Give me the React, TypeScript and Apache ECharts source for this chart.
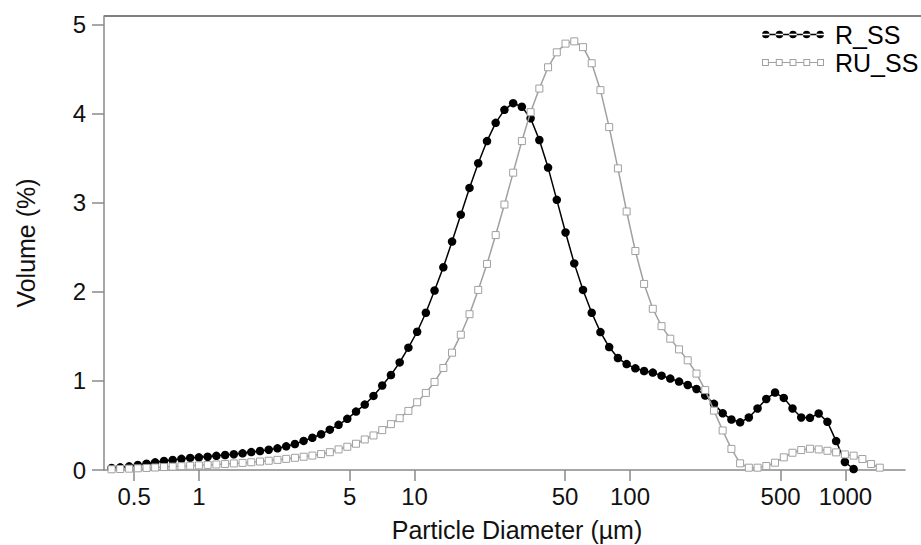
import React, { useEffect, useRef } from "react";
import * as echarts from "echarts";

// Channel centre diameters (µm)
const DIAMETERS = [
  0.393, 0.431, 0.474, 0.52, 0.571, 0.626, 0.688, 0.755, 0.829, 0.91,
  0.999, 1.097, 1.204, 1.322, 1.451, 1.593, 1.748, 1.919, 2.107, 2.313,
  2.539, 2.787, 3.059, 3.358, 3.687, 4.047, 4.443, 4.878, 5.355, 5.879,
  6.453, 7.084, 7.776, 8.537, 9.371, 10.29, 11.29, 12.39, 13.61, 14.94,
  16.4, 18.0, 19.76, 21.7, 23.81, 26.14, 28.7, 31.5, 34.58, 37.97,
  41.68, 45.75, 50.23, 55.13, 60.53, 66.44, 72.93, 80.07, 87.9, 96.48,
  105.9, 116.3, 127.6, 140.1, 153.8, 168.9, 185.3, 203.5, 223.4, 245.3,
  269.2, 295.6, 324.4, 356.1, 390.9, 429.1, 471.2, 517.2, 567.8, 623.3,
  684.2, 751.1, 824.5, 905.1, 993.6, 1091, 1198, 1315, 1443, 1584,
  1739, 1909,
];

// Volume (%)
const R_SS = [
  0.023, 0.03, 0.041, 0.056, 0.071, 0.086, 0.101, 0.112, 0.125, 0.136,
  0.142, 0.149, 0.159, 0.168, 0.177, 0.187, 0.201, 0.213, 0.228, 0.243,
  0.266, 0.292, 0.327, 0.362, 0.401, 0.453, 0.507, 0.575, 0.656, 0.735,
  0.832, 0.949, 1.067, 1.209, 1.374, 1.553, 1.766, 2.016, 2.277, 2.566,
  2.868, 3.169, 3.446, 3.695, 3.9, 4.046, 4.121, 4.08, 3.95, 3.707,
  3.397, 3.035, 2.668, 2.321, 2.023, 1.766, 1.549, 1.381, 1.258, 1.19,
  1.142, 1.112, 1.094, 1.06, 1.027, 0.993, 0.955, 0.91, 0.836, 0.743,
  0.638, 0.567, 0.535, 0.59, 0.691, 0.798, 0.87, 0.81, 0.691, 0.59,
  0.586, 0.635, 0.541, 0.325, 0.09, 0.011,
];

const RU_SS = [
  0.008, 0.011, 0.015, 0.019, 0.023, 0.028, 0.033, 0.038, 0.043, 0.048,
  0.052, 0.057, 0.062, 0.068, 0.074, 0.08, 0.087, 0.095, 0.104, 0.114,
  0.125, 0.137, 0.149, 0.162, 0.179, 0.2, 0.231, 0.261, 0.295, 0.343,
  0.388, 0.448, 0.515, 0.582, 0.664, 0.761, 0.866, 0.989, 1.146, 1.318,
  1.52, 1.75, 2.023, 2.315, 2.639, 2.982, 3.34, 3.695, 4.02, 4.285,
  4.524, 4.692, 4.79, 4.815, 4.75, 4.569, 4.267, 3.852, 3.388, 2.904,
  2.46, 2.09, 1.811, 1.616, 1.475, 1.355, 1.232, 1.083, 0.898, 0.667,
  0.444, 0.237, 0.075, 0.026, 0.026, 0.045, 0.082, 0.142, 0.194, 0.224,
  0.239, 0.231, 0.216, 0.198, 0.175, 0.161, 0.123, 0.067, 0.026,
];

const SERIES_NAMES = ["R_SS", "RU_SS"];
const X_TICKS = [0.5, 1, 5, 10, 50, 100, 500, 1000];
const Y_TICKS = [0, 1, 2, 3, 4, 5];
const X_RANGE = [0.3624, 1889];
const Y_RANGE = [0, 5.1];

const FONT = "'Liberation Sans', Arial, Helvetica, sans-serif";
const lg = (v: number) => Math.log10(v);
const toPairs = (vals: number[]) => vals.map((v, i) => [lg(DIAMETERS[i]), v]);
const fmtX = (v: number) => String(Number(Math.pow(10, v).toPrecision(4)));

// legend icons: line with five markers
const dotXs = [3.8, 17.4, 31, 44.6, 58.2];
const blackIcon =
  "path://M0,3.3 L62,3.3 L62,4.7 L0,4.7 Z " +
  dotXs.map((x) => `M${x - 3.8},4 a3.8,3.8 0 1,0 7.6,0 a3.8,3.8 0 1,0 -7.6,0 Z`).join(" ");
const grayIcon =
  "path://" +
  dotXs
    .map(
      (x) =>
        `M${x - 3.4},0.6 L${x + 3.4},0.6 L${x + 3.4},7.4 L${x - 3.4},7.4 Z M${x - 2.4},1.6 L${x - 2.4},6.4 L${x + 2.4},6.4 L${x + 2.4},1.6 Z`
    )
    .join(" ") +
  " " +
  dotXs
    .slice(0, 4)
    .map((x) => `M${x + 3.4},3.4 L${x + 10.2},3.4 L${x + 10.2},4.6 L${x + 3.4},4.6 Z`)
    .join(" ");

export default function App() {
  const ref = useRef<HTMLDivElement>(null);
  useEffect(() => {
    if (!ref.current) return;
    const chart = echarts.init(ref.current, undefined, { renderer: "svg" });
    const axisColor = "#8a8a8a";
    chart.setOption({
      animation: false,
      backgroundColor: "#fff",
      grid: { left: 104, right: 16, top: 16, bottom: 75, outerBoundsMode: "none" },
      legend: {
        orient: "vertical",
        left: 757,
        top: 17,
        padding: 5,
        itemWidth: 62,
        itemHeight: 8,
        itemGap: 3,
        textStyle: { fontSize: 25, color: "#000", fontFamily: FONT, lineHeight: 25, padding: [0, 0, 0, 6] },
        data: [
          { name: SERIES_NAMES[0], icon: blackIcon, itemStyle: { color: "#000", borderWidth: 0 } },
          { name: SERIES_NAMES[1], icon: grayIcon, itemStyle: { color: "#a0a0a0", borderWidth: 0 } },
        ],
      },
      graphic: [
        {
          type: "line",
          shape: { x1: 104, y1: 16, x2: 921, y2: 16 },
          style: { stroke: "#555", lineWidth: 1.5 },
          silent: true,
        },
      ],
      xAxis: {
        type: "value",
        min: lg(X_RANGE[0]),
        max: lg(X_RANGE[1]),
        axisLine: { show: true, onZero: false, lineStyle: { color: axisColor, width: 1.5 } },
        axisTick: {
          show: true,
          customValues: X_TICKS.map(lg),
          length: 11,
          lineStyle: { color: axisColor, width: 1.5 },
        },
        axisLabel: {
          customValues: X_TICKS.map(lg),
          formatter: (v: number) => fmtX(v),
          fontSize: 24,
          color: "#111",
          fontFamily: FONT,
          margin: 14,
        },
        splitLine: { show: false },
        name: "Particle Diameter (µm)",
        nameLocation: "middle",
        nameGap: 47,
        nameTextStyle: { fontSize: 25, color: "#111", fontFamily: FONT, padding: [0, 0, 0, 25] },
      },
      yAxis: {
        type: "value",
        min: Y_RANGE[0],
        max: Y_RANGE[1],
        axisLine: { show: true, onZero: false, lineStyle: { color: axisColor, width: 1.5 } },
        axisTick: {
          show: true,
          customValues: Y_TICKS,
          length: 12,
          lineStyle: { color: axisColor, width: 1.5 },
        },
        axisLabel: {
          customValues: Y_TICKS,
          fontSize: 24,
          color: "#111",
          fontFamily: FONT,
          margin: 18,
        },
        splitLine: { show: false },
        name: "Volume (%)",
        nameLocation: "middle",
        nameGap: 66,
        nameRotate: 90,
        nameTextStyle: { fontSize: 25, color: "#111", fontFamily: FONT },
      },
      series: [
        {
          name: SERIES_NAMES[0],
          type: "line",
          data: toPairs(R_SS),
          symbol: "circle",
          symbolSize: 8.5,
          showSymbol: true,
          showAllSymbol: true,
          itemStyle: { color: "#000" },
          lineStyle: { color: "#000", width: 1.5 },
          z: 2,
        },
        {
          name: SERIES_NAMES[1],
          type: "line",
          data: toPairs(RU_SS),
          symbol: "rect",
          symbolSize: 7,
          showSymbol: true,
          showAllSymbol: true,
          itemStyle: { color: "#fff", borderColor: "#a0a0a0", borderWidth: 1 },
          lineStyle: { color: "#a0a0a0", width: 1.5 },
          z: 3,
        },
      ],
    });
    return () => chart.dispose();
  }, []);
  return (
    <div
      ref={ref}
      style={{ position: "fixed", left: 0, top: 0, width: 921, height: 545, background: "#fff" }}
    />
  );
}
